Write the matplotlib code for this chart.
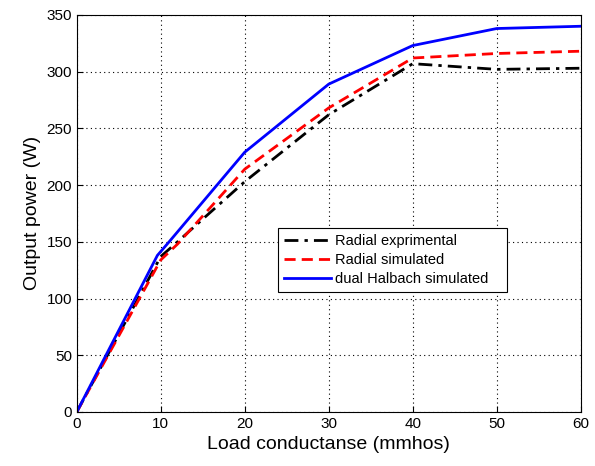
import numpy as np
import matplotlib
matplotlib.use('Agg')
import matplotlib.pyplot as plt

plt.rcParams['font.family'] = ['Liberation Sans', 'DejaVu Sans']

# Data
x_exp = [0, 10, 12, 15, 20, 30, 40, 50, 60]
y_exp = [0, 137, 150, 170, 203, 262, 307, 302, 303]

x_rad = [0, 10, 12, 20, 30, 40, 50, 60]
y_rad = [0, 134, 148, 214, 268, 312, 316, 318]

x_hal = [0, 9.6, 11, 20, 30, 40, 50, 60]
y_hal = [0, 138, 150, 229, 289, 323, 338, 340]

labels = ['Radial exprimental', 'Radial simulated', 'dual Halbach simulated']

fig = plt.figure(figsize=(5.95, 4.66), dpi=100)
ax = fig.add_axes([0.129, 0.116, 0.847, 0.852])

ax.plot(x_exp, y_exp, color='black', linestyle=(0, (5, 2.2, 1.2, 2.2)), lw=2, label=labels[0])
ax.plot(x_rad, y_rad, color='red', linestyle=(0, (4, 2.2)), lw=2, label=labels[1])
ax.plot(x_hal, y_hal, color='blue', linestyle='-', lw=2, label=labels[2])

ax.set_xlim(0, 60)
ax.set_ylim(0, 350)
ax.set_xticks(np.arange(0, 61, 10))
ax.set_yticks(np.arange(0, 351, 50))
ax.grid(True, color='black', linestyle=(0, (1, 3)), lw=0.8)
ax.tick_params(direction='in', labelsize=11, length=4)
for s in ax.spines.values():
    s.set_color('black')
    s.set_linewidth(0.8)

ax.set_xlabel('Load conductanse (mmhos)', fontsize=14)
ax.set_ylabel('Output power (W)', fontsize=14)

leg = ax.legend(loc='lower left', bbox_to_anchor=(0.40, 0.302, 0.454, 0.176), mode='expand',
                fontsize=10.5, fancybox=False, framealpha=1, edgecolor='black',
                handlelength=3.2, borderaxespad=0, labelspacing=0.35, handletextpad=0.3)
leg.get_frame().set_linewidth(0.8)

fig.savefig('out.png', dpi=100)
